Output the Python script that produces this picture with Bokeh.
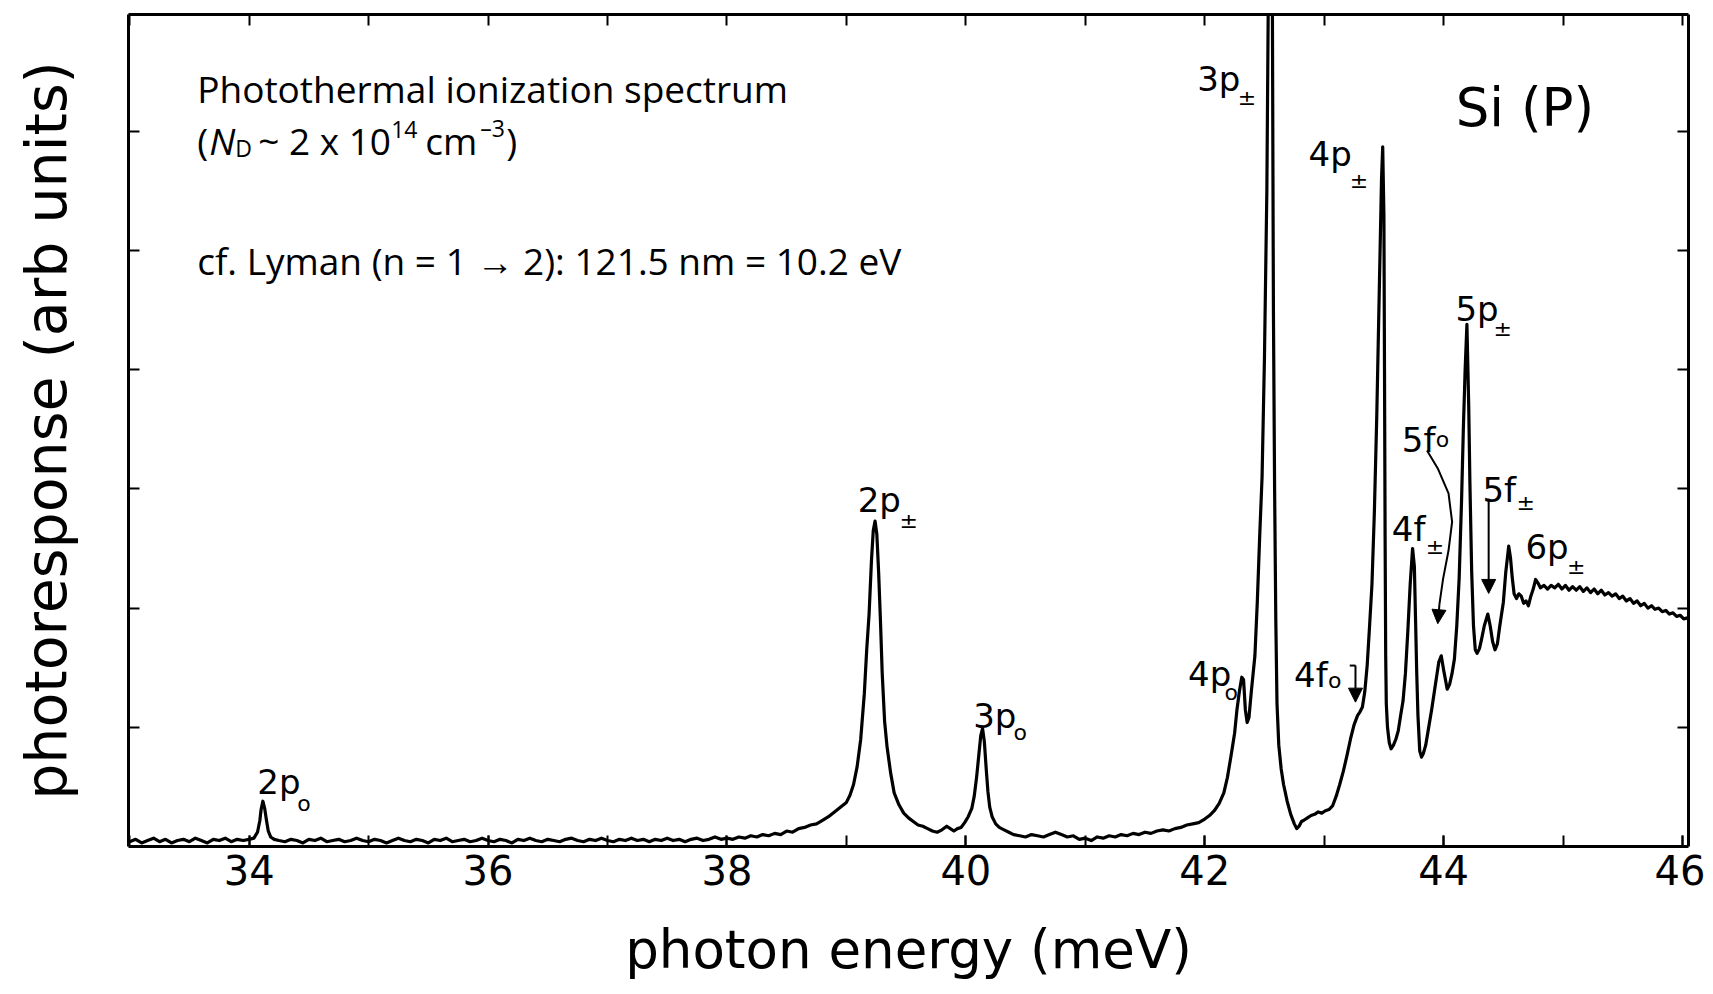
from bokeh.plotting import figure
from bokeh.models import Range1d, LinearAxis, FixedTicker, Arrow, NormalHead, ColumnDataSource
from bokeh.core.properties import value
from bokeh.embed import file_html
from bokeh.resources import INLINE

# ---------------- data ----------------
energy_meV = [
    33.00, 33.05, 33.10, 33.15, 33.20, 33.25, 33.30, 33.35, 33.40, 33.45, 33.50, 33.55, 33.60, 33.65,
    33.70, 33.75, 33.80, 33.85, 33.90, 33.95, 34.00,
    34.04, 34.07, 34.09, 34.10, 34.115, 34.13, 34.145, 34.16, 34.18, 34.21,
    34.25, 34.30, 34.35, 34.40, 34.45, 34.50, 34.55, 34.60, 34.65, 34.70, 34.75, 34.80, 34.85, 34.90,
    34.95, 35.00, 35.05, 35.10, 35.15, 35.20, 35.25, 35.30, 35.35, 35.40, 35.45, 35.50, 35.55, 35.60,
    35.65, 35.70, 35.75, 35.80, 35.85, 35.90, 35.95, 36.00, 36.05, 36.10, 36.15, 36.20, 36.25, 36.30,
    36.35, 36.40, 36.45, 36.50, 36.55, 36.60, 36.65, 36.70, 36.75, 36.80, 36.85, 36.90, 36.95, 37.00,
    37.05, 37.10, 37.15, 37.20, 37.25, 37.30, 37.35, 37.40, 37.45, 37.50, 37.55, 37.60, 37.65, 37.70,
    37.75, 37.80, 37.85, 37.90, 37.95, 38.00, 38.05, 38.10, 38.15, 38.20, 38.25, 38.30,
    38.35, 38.40, 38.45, 38.50, 38.55, 38.60, 38.65, 38.70, 38.75, 38.80, 38.85, 38.90, 38.95, 39.00,
    39.03, 39.06, 39.09, 39.12, 39.15, 39.17, 39.19, 39.21, 39.225, 39.24, 39.255, 39.27, 39.285, 39.30,
    39.32, 39.34, 39.37, 39.40, 39.44, 39.48, 39.52, 39.56, 39.60, 39.64, 39.68, 39.72, 39.76, 39.80,
    39.84, 39.87, 39.90, 39.93, 39.96, 39.99, 40.02, 40.05, 40.07, 40.09, 40.11, 40.125, 40.14, 40.155,
    40.17, 40.185, 40.20, 40.22, 40.25, 40.28, 40.32, 40.36, 40.40, 40.45, 40.50, 40.55, 40.60, 40.65,
    40.70, 40.75, 40.80, 40.85, 40.90, 40.95, 41.00, 41.05, 41.10, 41.15, 41.20, 41.25, 41.30, 41.35,
    41.40, 41.45, 41.50, 41.55, 41.60, 41.65, 41.70, 41.75, 41.80, 41.85, 41.90, 41.95, 42.00, 42.04,
    42.08, 42.12, 42.16, 42.19, 42.22, 42.25, 42.27, 42.29, 42.31, 42.325, 42.34, 42.355, 42.37, 42.39,
    42.42, 42.44, 42.46, 42.48, 42.50, 42.52, 42.535, 42.55, 42.565, 42.575, 42.585, 42.595, 42.605, 42.62,
    42.64, 42.66, 42.69, 42.72, 42.75, 42.77, 42.79, 42.81, 42.83, 42.86, 42.89, 42.92, 42.95, 42.98,
    43.01, 43.04, 43.07, 43.10, 43.13, 43.16, 43.19, 43.22, 43.25, 43.28, 43.30, 43.32, 43.34, 43.36,
    43.38, 43.40, 43.42, 43.44, 43.46, 43.48, 43.49, 43.50, 43.505, 43.51, 43.515, 43.52, 43.53, 43.545,
    43.56, 43.58, 43.60, 43.62, 43.64, 43.66, 43.68, 43.70, 43.72, 43.74, 43.755, 43.765, 43.775, 43.785,
    43.80, 43.815, 43.83, 43.85, 43.87, 43.90, 43.93, 43.96, 43.98, 44.00, 44.03, 44.05, 44.07, 44.09,
    44.11, 44.13, 44.15, 44.165, 44.18, 44.195, 44.21, 44.22, 44.235, 44.25, 44.265, 44.28, 44.30, 44.32,
    44.34, 44.37, 44.39, 44.41, 44.43, 44.45, 44.47, 44.50, 44.52, 44.545, 44.56, 44.575, 44.59, 44.61,
    44.63, 44.65, 44.67, 44.69, 44.71, 44.73, 44.75, 44.77, 44.79, 44.81, 44.84, 44.87, 44.90, 44.93,
    44.96, 44.99, 45.02, 45.05, 45.08, 45.11, 45.14, 45.17, 45.20, 45.23, 45.26, 45.29, 45.32, 45.35,
    45.38, 45.41, 45.44, 45.47, 45.50, 45.53, 45.56, 45.59, 45.62, 45.65, 45.68, 45.71, 45.74, 45.77,
    45.80, 45.83, 45.86, 45.89, 45.92, 45.95, 45.98, 46.01, 46.05,
]
photoresponse = [
    0.04, 0.06, 0.03, 0.05, 0.07, 0.04, 0.06, 0.03, 0.05, 0.06, 0.04, 0.07, 0.05, 0.03,
    0.06, 0.05, 0.07, 0.04, 0.06, 0.05, 0.06,
    0.07, 0.12, 0.22, 0.31, 0.38, 0.32, 0.22, 0.13, 0.08, 0.06,
    0.05, 0.04, 0.06, 0.05, 0.03, 0.06, 0.05, 0.07, 0.04, 0.05, 0.06, 0.04, 0.05, 0.07,
    0.05, 0.04, 0.06, 0.05, 0.03, 0.05, 0.07, 0.05, 0.04, 0.06, 0.05, 0.03, 0.06, 0.05,
    0.07, 0.04, 0.05, 0.06, 0.04, 0.05, 0.07, 0.05, 0.04, 0.06, 0.05, 0.03, 0.06, 0.05,
    0.07, 0.05, 0.04, 0.06, 0.05, 0.04, 0.06, 0.07, 0.05, 0.04, 0.06, 0.05, 0.07, 0.05,
    0.04, 0.06, 0.05, 0.07, 0.05, 0.06, 0.04, 0.06, 0.05, 0.07, 0.05, 0.06, 0.04, 0.06,
    0.07, 0.05, 0.06, 0.08, 0.06, 0.07, 0.06, 0.08, 0.07, 0.09, 0.08, 0.10,
    0.09, 0.11, 0.10, 0.13, 0.12, 0.15, 0.16, 0.18, 0.19, 0.22, 0.25, 0.29, 0.33, 0.37,
    0.43, 0.52, 0.67, 0.90, 1.28, 1.65, 1.95, 2.40, 2.65, 2.73, 2.62, 2.30, 1.90, 1.45,
    1.05, 0.84, 0.62, 0.45, 0.35, 0.28, 0.24, 0.21, 0.18, 0.17, 0.15, 0.13, 0.12, 0.14,
    0.17, 0.15, 0.13, 0.15, 0.16, 0.20, 0.25, 0.32, 0.42, 0.58, 0.78, 0.93, 0.99, 0.88,
    0.66, 0.46, 0.33, 0.25, 0.19, 0.16, 0.14, 0.12, 0.10, 0.09, 0.08, 0.10, 0.09, 0.08,
    0.10, 0.12, 0.10, 0.08, 0.09, 0.06, 0.07, 0.05, 0.08, 0.07, 0.09, 0.08, 0.10, 0.09,
    0.11, 0.10, 0.12, 0.11, 0.13, 0.14, 0.13, 0.15, 0.16, 0.18, 0.19, 0.20, 0.23, 0.26,
    0.30, 0.36, 0.45, 0.58, 0.76, 0.95, 1.15, 1.30, 1.42, 1.40, 1.15, 1.04, 1.08, 1.30,
    1.60, 2.05, 2.60, 3.10, 4.10, 5.50, 7.50, 9.50, 7.50, 4.50, 3.00, 1.90, 1.20, 0.85,
    0.65, 0.52, 0.38, 0.27, 0.19, 0.15, 0.17, 0.21, 0.22, 0.24, 0.26, 0.27, 0.29, 0.28,
    0.30, 0.31, 0.34, 0.42, 0.52, 0.63, 0.76, 0.90, 1.02, 1.10, 1.13, 1.17, 1.30, 1.52,
    1.85, 2.20, 2.80, 3.60, 4.60, 5.60, 5.87, 5.30, 4.00, 2.60, 1.60, 1.20, 1.00, 0.87,
    0.82, 0.85, 0.90, 0.97, 1.10, 1.22, 1.45, 1.80, 2.20, 2.50, 2.35, 1.90, 1.45, 1.10,
    0.80, 0.75, 0.78, 0.85, 0.97, 1.15, 1.35, 1.55, 1.60, 1.48, 1.32, 1.36, 1.45, 1.57,
    1.85, 2.25, 2.90, 3.50, 4.00, 4.38, 3.70, 3.05, 2.30, 1.85, 1.65, 1.62, 1.66, 1.75,
    1.85, 1.95, 1.85, 1.72, 1.65, 1.70, 1.85, 2.05, 2.30, 2.52, 2.42, 2.25, 2.12, 2.08,
    2.12, 2.10, 2.04, 2.06, 2.02, 2.10, 2.16, 2.24, 2.21, 2.17, 2.19, 2.16, 2.19, 2.17,
    2.20, 2.16, 2.19, 2.15, 2.18, 2.15, 2.18, 2.14, 2.17, 2.13, 2.16, 2.12, 2.15, 2.11,
    2.13, 2.10, 2.12, 2.08, 2.10, 2.06, 2.08, 2.04, 2.06, 2.02, 2.04, 2.00, 2.02, 1.99,
    2.00, 1.97, 1.98, 1.95, 1.96, 1.93, 1.94, 1.91, 1.92,
]

x_major_ticks = [34, 36, 38, 40, 42, 44, 46]
x_minor_ticks = [33, 34, 35, 36, 37, 38, 39, 40, 41, 42, 43, 44, 45, 46]
y_ticks = [1, 2, 3, 4, 5, 6]

# peak assignment labels: main text, subscript, and their anchor positions (meV, arb)
state_main = ["2p", "2p", "3p", "4p", "3p", "4p", "5p", "5f", "4f", "5f", "6p", "4f"]
state_sub = ["o", "±", "o", "o", "±", "±", "±", "o", "±", "±", "±", "o"]
main_x = [34.068, 39.095, 40.062, 41.860, 41.937, 42.869, 44.099, 43.650, 43.566, 44.325, 44.685, 42.748]
main_y = [0.539, 2.903, 1.099, 1.450, 6.441, 5.811, 4.511, 3.414, 2.663, 2.992, 2.513, 1.435]
sub_x = [34.402, 39.445, 40.399, 42.166, 42.277, 43.214, 44.417, 43.935, 43.851, 44.610, 45.032, 43.033]
sub_y = [0.361, 2.735, 0.959, 1.294, 6.286, 5.587, 4.346, 3.414, 2.513, 2.888, 2.349, 1.393]

# note text lines
note_x = 33.565
note_line1 = "Photothermal ionization spectrum"
note_line3 = "cf. Lyman (n = 1 \u2192 2): 121.5 nm = 10.2 eV"
note_y1, note_y2, note_y3 = 6.357, 5.923, 4.916
line2_text = ["(", "N", "D", "~ 2 x 10", "14", "cm", "\u20133", ")"]
line2_dx = [0, 12, 38, 61, 194, 228, 283, 309]
line2_dy = [0, 0, 8, 0, -11, 0, -12, 0]
line2_size = ["37px", "37px", "23px", "37px", "23px", "37px", "23px", "37px"]
line2_style = ["normal", "italic", "normal", "normal", "normal", "normal", "normal", "normal"]

# axis titles
x_title = "photon energy (meV)"
y_title = "photoresponse (arb units)"

# arrows
arrow_4f0 = dict(x=43.262, y0=1.518, y1=1.211, bracket_x0=43.214)
arrow_5fpm = dict(x=44.377, y0=2.918, y1=2.123)
curve_5f0_x = [43.861, 43.951, 44.041, 44.071, 44.041, 43.995, 43.965]
curve_5f0_y = [3.322, 3.172, 2.962, 2.723, 2.483, 2.243, 2.034]
curve_5f0_tip = (43.951, 1.869)

# ---------------- figure ----------------
p = figure(width=1705, height=994, x_range=Range1d(32.99, 46.05), y_range=Range1d(0, 6.98),
           output_backend="svg", toolbar_location=None,
           min_border_left=128, min_border_right=17, min_border_top=14, min_border_bottom=148)
p.grid.visible = False
p.outline_line_color = None
p.background_fill_color = "white"
p.border_fill_color = "white"

AX_FONT = "DejaVu Sans"


def style_axis(ax):
    ax.axis_line_color = "black"
    ax.axis_line_width = 3
    ax.major_tick_in = 11
    ax.major_tick_out = 0
    ax.minor_tick_in = 11
    ax.minor_tick_out = 0
    ax.major_tick_line_width = 2
    ax.minor_tick_line_width = 2
    ax.major_tick_line_color = "black"
    ax.minor_tick_line_color = "black"


xa = p.xaxis[0]
xa.ticker = FixedTicker(ticks=x_major_ticks, minor_ticks=x_minor_ticks)
style_axis(xa)
xa.major_label_text_font = AX_FONT
xa.major_label_text_font_size = "40px"
xa.major_label_text_color = "black"
xa.major_label_standoff = 8
xa.axis_label = x_title
xa.axis_label_text_font = AX_FONT
xa.axis_label_text_font_size = "53px"
xa.axis_label_text_font_style = "normal"
xa.axis_label_text_color = "black"
xa.axis_label_standoff = 31

# left axis: tick marks only (as minor ticks, no labels) plus the axis title
ya = p.yaxis[0]
ya.ticker = FixedTicker(ticks=[], minor_ticks=y_ticks)
style_axis(ya)
ya.axis_label = y_title
ya.axis_label_text_font = AX_FONT
ya.axis_label_text_font_size = "57px"
ya.axis_label_text_font_style = "normal"
ya.axis_label_text_color = "black"
ya.axis_label_standoff = 50

top_ax = LinearAxis(ticker=FixedTicker(ticks=[], minor_ticks=x_minor_ticks))
style_axis(top_ax)
p.add_layout(top_ax, "above")
right_ax = LinearAxis(ticker=FixedTicker(ticks=[], minor_ticks=y_ticks))
style_axis(right_ax)
p.add_layout(right_ax, "right")

# spectrum
p.line(energy_meV, photoresponse, line_color="black", line_width=3.2, line_join="round")

# peak labels
lab_src = ColumnDataSource(dict(x=main_x, y=main_y, t=state_main))
p.text(x="x", y="y", text="t", source=lab_src, text_font=value(AX_FONT), text_font_size="34px",
       text_color="black", text_align="left", text_baseline="alphabetic")
sub_src = ColumnDataSource(dict(x=sub_x, y=sub_y, t=state_sub))
p.text(x="x", y="y", text="t", source=sub_src, text_font=value(AX_FONT), text_font_size="22px",
       text_color="black", text_align="left", text_baseline="alphabetic")

p.text(x=[44.101], y=[6.202], text=["Si (P)"], text_font=value(AX_FONT), text_font_size="53px",
       text_color="black", text_align="left", text_baseline="alphabetic")

# notes
NOTE_FONT = "Open Sans"
p.text(x=[note_x], y=[note_y1], text=[note_line1], text_font=value(NOTE_FONT), text_font_size="37px",
       text_color="black", text_align="left", text_baseline="alphabetic")
p.text(x=[note_x], y=[note_y3], text=[note_line3], text_font=value(NOTE_FONT), text_font_size="37px",
       text_color="black", text_align="left", text_baseline="alphabetic")
l2 = ColumnDataSource(dict(x=[note_x] * len(line2_text), y=[note_y2] * len(line2_text), t=line2_text,
                           dx=line2_dx, dy=line2_dy, fs=line2_size, st=line2_style))
p.text(x="x", y="y", text="t", x_offset="dx", y_offset="dy", text_font_size="fs", text_font_style="st",
       source=l2, text_font=value(NOTE_FONT), text_color="black", text_align="left",
       text_baseline="alphabetic")

# arrows
head = dict(size=14, fill_color="black", line_color="black", line_width=1)
p.add_layout(Arrow(end=NormalHead(**head), x_start=arrow_4f0["x"], y_start=arrow_4f0["y0"],
                   x_end=arrow_4f0["x"], y_end=arrow_4f0["y1"], line_width=2, line_color="black"))
p.line([arrow_4f0["bracket_x0"], arrow_4f0["x"]], [arrow_4f0["y0"], arrow_4f0["y0"]],
       line_color="black", line_width=2)
p.add_layout(Arrow(end=NormalHead(**head), x_start=arrow_5fpm["x"], y_start=arrow_5fpm["y0"],
                   x_end=arrow_5fpm["x"], y_end=arrow_5fpm["y1"], line_width=2, line_color="black"))
p.line(curve_5f0_x, curve_5f0_y, line_color="black", line_width=2)
p.add_layout(Arrow(end=NormalHead(**head), x_start=curve_5f0_x[-1], y_start=curve_5f0_y[-1],
                   x_end=curve_5f0_tip[0], y_end=curve_5f0_tip[1], line_width=2, line_color="black"))

open("out.html", "w").write(file_html(p, INLINE))
